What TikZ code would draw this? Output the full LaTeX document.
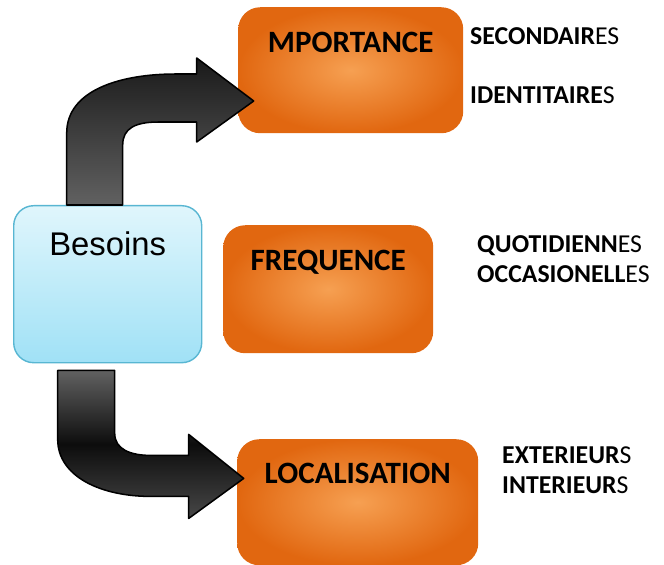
\documentclass[tikz,border=0pt]{standalone}
\usepackage{fontspec}
\setmainfont{Carlito}
\newfontfamily\arialfont{Liberation Sans}
\usepackage{tikz}
\usetikzlibrary{calc}
\definecolor{bsnblue}{RGB}{88,182,210}
\definecolor{bsnlight}{RGB}{224,246,252}
\definecolor{bsnsky}{RGB}{160,225,246}
\definecolor{orgdeep}{RGB}{225,103,16}
\definecolor{orglight}{RGB}{246,160,82}

\begin{document}
\begin{tikzpicture}[x=0.03cm, y=-0.03cm, line join=round,
  besoinsbox/.style={draw=bsnblue, line width=1.2pt, rounded corners=0.6cm,
    top color=bsnlight, bottom color=bsnsky, anchor=north west, inner sep=0pt,
    minimum width=5.64cm, text height=1.5cm, text depth=3.21cm,
    font=\arialfont\fontsize{28}{32}\selectfont},
  rubrique/.style={rounded corners=0.66cm, inner color=orglight, outer color=orgdeep,
    anchor=north west, inner sep=0pt, font=\fontsize{26.5}{30}\selectfont\bfseries},
  modalite/.style={anchor=base west, inner sep=0pt, font=\fontsize{22}{26}\selectfont},
  blockarrow/.style={draw=black, line width=1.3pt}]
  \path[use as bounding box] (0,0) rectangle (664,565);

  % boxes
  \node[besoinsbox] (besoins) at (13,205) {Besoins};
  \node[rubrique, minimum width=6.75cm, text height=1.35cm, text depth=2.43cm]
    (importance) at (238,7) {MPORTANCE};
  \node[rubrique, minimum width=6.3cm, text height=1.35cm, text depth=2.49cm]
    (frequence) at (223,225) {FREQUENCE};
  \node[rubrique, minimum width=7.23cm, text height=1.32cm, text depth=2.46cm]
    (localisation) at (237,439) {LOCALISATION};

  % modalities
  \node[modalite] (secondaires) at (470,45) {{\bfseries SECONDAIR}ES};
  \node[modalite] (identitaires) at (470,104) {{\bfseries IDENTITAIRE}S};
  \node[modalite] (quotidiennes) at (477,253) {{\bfseries QUOTIDIENN}ES};
  \node[modalite] (occasionelles) at (477,283) {{\bfseries OCCASIONELL}ES};
  \node[modalite] (exterieurs) at (502,463) {{\bfseries EXTERIEUR}S};
  \node[modalite] (interieurs) at (502,493) {{\bfseries INTERIEUR}S};

  % bent block arrows
  \draw[blockarrow, shift={(besoins.north)}, top color=black!90, bottom color=black!62]
    (-41,0) -- (-41,-72) .. controls (-41,-115) and (13,-131) .. (68,-131)
    -- (89,-131) -- (89,-147) -- (146,-104) -- (89,-63) -- (89,-83) -- (51,-83)
    .. controls (28,-83) and (15,-77) .. (15,-60) -- (15,0) -- cycle;
  \draw[blockarrow, shift={(besoins.south)}, top color=black!62, bottom color=black!72,
    middle color=black!95]
    (-50,7) -- (-50,76) .. controls (-50,113) and (-7,133) .. (43,133)
    -- (81,133) -- (81,155) -- (136,115) -- (81,71) -- (81,92) -- (43,92)
    .. controls (23,92) and (7,86) .. (7,70) -- (7,7) -- cycle;
\end{tikzpicture}
\end{document}
